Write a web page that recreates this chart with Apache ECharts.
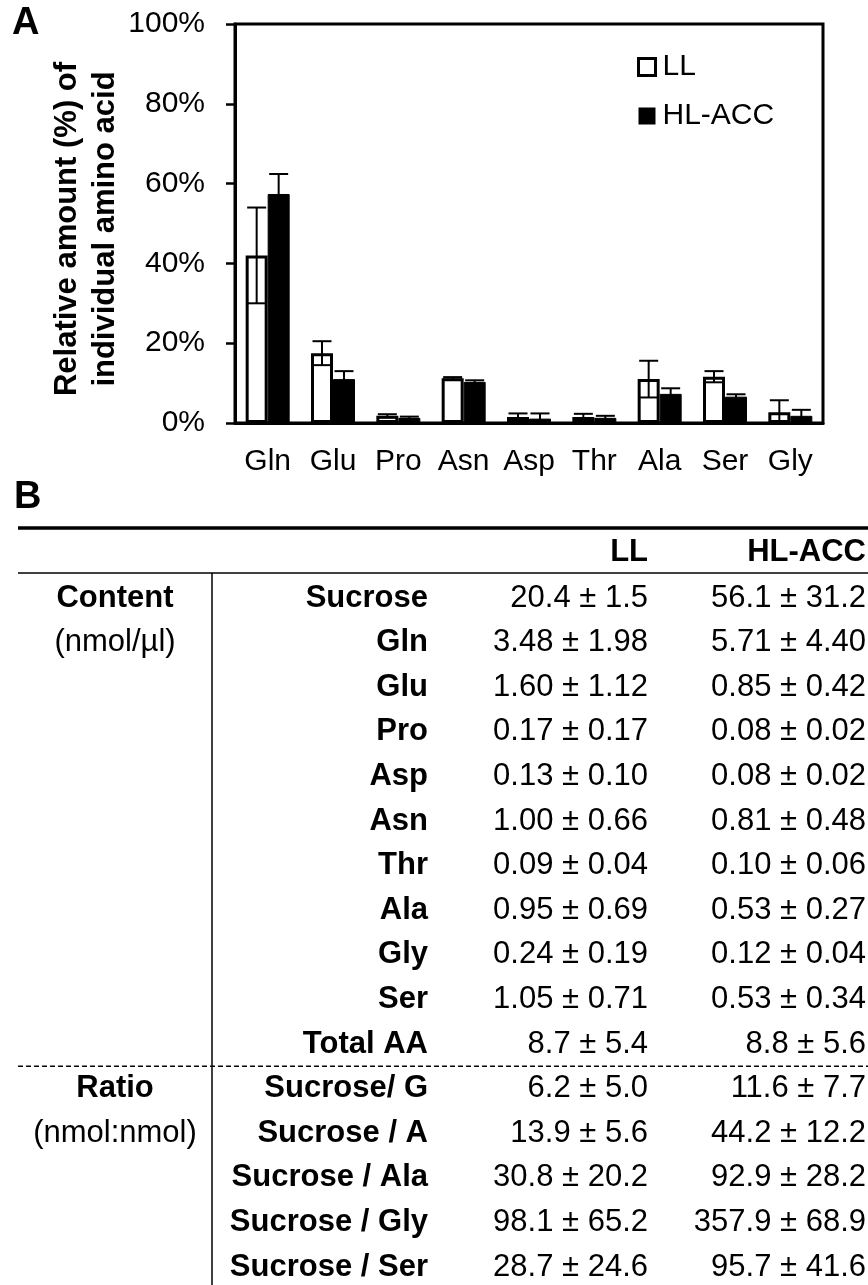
<!DOCTYPE html>
<html>
<head>
<meta charset="utf-8">
<script src="https://cdn.jsdelivr.net/npm/echarts@6/dist/echarts.min.js"></script>
<style>
  html, body { margin: 0; padding: 0; background: #fff; }
  #main { width: 868px; height: 1285px; }
</style>
</head>
<body>
<div id="main"></div>
<script>
// Panel A: relative amount (%) of each amino acid, mean and SD
const aminoAcids = ['Gln', 'Glu', 'Pro', 'Asn', 'Asp', 'Thr', 'Ala', 'Ser', 'Gly'];
const llMean = [42.0, 17.5, 1.8, 11.2, 1.5, 1.5, 11.0, 11.6, 2.7];
const llErr  = [12.0, 3.0, 0.4, 0.3, 0.9, 0.8, 4.6, 1.4, 3.0];
const hlMean = [57.4, 11.0, 1.3, 10.3, 1.1, 1.3, 7.3, 6.6, 1.8];
const hlErr  = [5.0, 2.0, 0.3, 0.4, 1.3, 0.5, 1.4, 0.6, 1.5];
const seriesNames = ['LL', 'HL-ACC'];

// Panel B: table of contents and ratios
const tableHeader = ['LL', 'HL-ACC'];
const rowLabels = ['Sucrose', 'Gln', 'Glu', 'Pro', 'Asp', 'Asn', 'Thr', 'Ala', 'Gly', 'Ser', 'Total AA',
  'Sucrose/ G', 'Sucrose / A', 'Sucrose / Ala', 'Sucrose / Gly', 'Sucrose / Ser'];
const llValues = ['20.4 ± 1.5', '3.48 ± 1.98', '1.60 ± 1.12', '0.17 ± 0.17', '0.13 ± 0.10', '1.00 ± 0.66',
  '0.09 ± 0.04', '0.95 ± 0.69', '0.24 ± 0.19', '1.05 ± 0.71', '8.7 ± 5.4',
  '6.2 ± 5.0', '13.9 ± 5.6', '30.8 ± 20.2', '98.1 ± 65.2', '28.7 ± 24.6'];
const hlValues = ['56.1 ± 31.2', '5.71 ± 4.40', '0.85 ± 0.42', '0.08 ± 0.02', '0.08 ± 0.02', '0.81 ± 0.48',
  '0.10 ± 0.06', '0.53 ± 0.27', '0.12 ± 0.04', '0.53 ± 0.34', '8.8 ± 5.6',
  '11.6 ± 7.7', '44.2 ± 12.2', '92.9 ± 28.2', '357.9 ± 68.9', '95.7 ± 41.6'];
// group captions: [row index, bold title, unit]
const groups = [[0, 'Content', '(nmol/µl)'], [11, 'Ratio', '(nmol:nmol)']];
const separatorAfterRow = 10;

const FONT = '"Liberation Sans", Arial, Helvetica, sans-serif';
const BAR_W = 22;
const CAP_W = 19;

const chart = echarts.init(document.getElementById('main'), null, { renderer: 'canvas' });

function errorBar(side) {
  return function (params, api) {
    const i = api.value(0), m = api.value(1), e = api.value(2);
    const top = api.coord([i, m + e]);
    const bot = api.coord([i, Math.max(0, m - e)]);
    const x = top[0] + side * BAR_W / 2;
    const h = CAP_W / 2;
    const st = { stroke: '#000', lineWidth: 2 };
    return {
      type: 'group',
      children: [
        { type: 'line', shape: { x1: x, y1: top[1], x2: x, y2: bot[1] }, style: st },
        { type: 'line', shape: { x1: x - h, y1: top[1], x2: x + h, y2: top[1] }, style: st },
        { type: 'line', shape: { x1: x - h, y1: bot[1], x2: x + h, y2: bot[1] }, style: st }
      ]
    };
  };
}

// ---- table graphics ----
const ROW0 = 598, ROW_H = 44.6;
const LABEL_R = 428, LL_R = 648, HL_R = 866, GROUP_C = 115;
const LINE_L = 18, LINE_R = 868;
const rowY = i => ROW0 + i * ROW_H;
function txt(x, y, text, align, bold) {
  return {
    type: 'text', x: x, y: y, silent: true,
    style: {
      text: text, fill: '#000',
      font: (bold ? 'bold 31px ' : '31px ') + FONT,
      align: align, textAlign: align,
      verticalAlign: 'middle', textVerticalAlign: 'middle'
    }
  };
}
const tableEls = [];
tableEls.push({ type: 'line', shape: { x1: LINE_L, y1: 528, x2: LINE_R, y2: 528 }, style: { stroke: '#000', lineWidth: 3.5 } });
tableEls.push({ type: 'line', shape: { x1: LINE_L, y1: 573, x2: LINE_R, y2: 573 }, style: { stroke: '#000', lineWidth: 1.5 } });
tableEls.push({ type: 'line', shape: { x1: 212, y1: 573, x2: 212, y2: 1285 }, style: { stroke: '#000', lineWidth: 1.5 } });
const sepY = (rowY(separatorAfterRow) + rowY(separatorAfterRow + 1)) / 2;
tableEls.push({ type: 'line', shape: { x1: LINE_L, y1: sepY, x2: LINE_R, y2: sepY }, style: { stroke: '#000', lineWidth: 1.5, lineDash: [5, 3] } });
tableEls.push(txt(LL_R, 552, tableHeader[0], 'right', true));
tableEls.push(txt(HL_R, 552, tableHeader[1], 'right', true));
rowLabels.forEach((lab, i) => {
  tableEls.push(txt(LABEL_R, rowY(i), lab, 'right', true));
  tableEls.push(txt(LL_R, rowY(i), llValues[i], 'right', false));
  tableEls.push(txt(HL_R, rowY(i), hlValues[i], 'right', false));
});
groups.forEach(g => {
  tableEls.push(txt(GROUP_C, rowY(g[0]), g[1], 'center', true));
  tableEls.push(txt(GROUP_C, rowY(g[0] + 1), g[2], 'center', false));
});

const panelLabels = [
  { type: 'text', x: 12, y: 24, style: { text: 'A', fill: '#000', font: 'bold 38px ' + FONT, verticalAlign: 'middle', textVerticalAlign: 'middle' } },
  { type: 'text', x: 14, y: 498, style: { text: 'B', fill: '#000', font: 'bold 38px ' + FONT, verticalAlign: 'middle', textVerticalAlign: 'middle' } }
];
const yTitle = {
  type: 'text', x: 86, y: 229, rotation: Math.PI / 2,
  style: {
    text: 'Relative amount (%) of\nindividual amino acid', fill: '#000',
    font: 'bold 31px ' + FONT, lineHeight: 38,
    align: 'center', textAlign: 'center', verticalAlign: 'middle', textVerticalAlign: 'middle'
  }
};

chart.setOption({
  animation: false,
  backgroundColor: '#fff',
  textStyle: { fontFamily: FONT, color: '#000' },
  grid: { left: 235, top: 24, width: 588, height: 399, show: true, borderColor: '#000', borderWidth: 3, backgroundColor: 'transparent' },
  legend: {
    orient: 'vertical', left: 632, top: 47,
    itemWidth: 17, itemHeight: 17, itemGap: 19,
    icon: 'rect',
    textStyle: { fontSize: 30, color: '#000', fontFamily: FONT, padding: [0, 0, 0, 2] },
    data: [
      { name: seriesNames[0], itemStyle: { color: '#fff', borderColor: '#000', borderWidth: 3 } },
      { name: seriesNames[1], itemStyle: { color: '#000', borderWidth: 0 } }
    ]
  },
  xAxis: {
    type: 'category', data: aminoAcids,
    axisLine: { lineStyle: { color: '#000', width: 3 } },
    axisTick: { show: false },
    axisLabel: { interval: 0, fontSize: 30, color: '#000', margin: 24, fontFamily: FONT }
  },
  yAxis: {
    type: 'value', min: 0, max: 100, interval: 20,
    axisLine: { show: true, lineStyle: { color: '#000', width: 3 } },
    axisTick: { show: true, length: 9, lineStyle: { color: '#000', width: 2.5 } },
    splitLine: { show: false },
    axisLabel: { fontSize: 30, color: '#000', margin: 30, formatter: '{value}%', fontFamily: FONT }
  },
  graphic: panelLabels.concat([yTitle], tableEls),
  series: [
    {
      name: seriesNames[0], type: 'bar', data: llMean, barWidth: BAR_W, barGap: '0%',
      itemStyle: { color: '#fff', borderColor: '#000', borderWidth: 3 }
    },
    {
      name: seriesNames[1], type: 'bar', data: hlMean, barWidth: BAR_W, barGap: '0%',
      itemStyle: { color: '#000', borderColor: '#000', borderWidth: 1 }
    },
    {
      type: 'custom', renderItem: errorBar(-1), z: 5, silent: true,
      data: aminoAcids.map((a, i) => [i, llMean[i], llErr[i]])
    },
    {
      type: 'custom', renderItem: errorBar(1), z: 5, silent: true,
      data: aminoAcids.map((a, i) => [i, hlMean[i], hlErr[i]])
    }
  ]
});
</script>
</body>
</html>
